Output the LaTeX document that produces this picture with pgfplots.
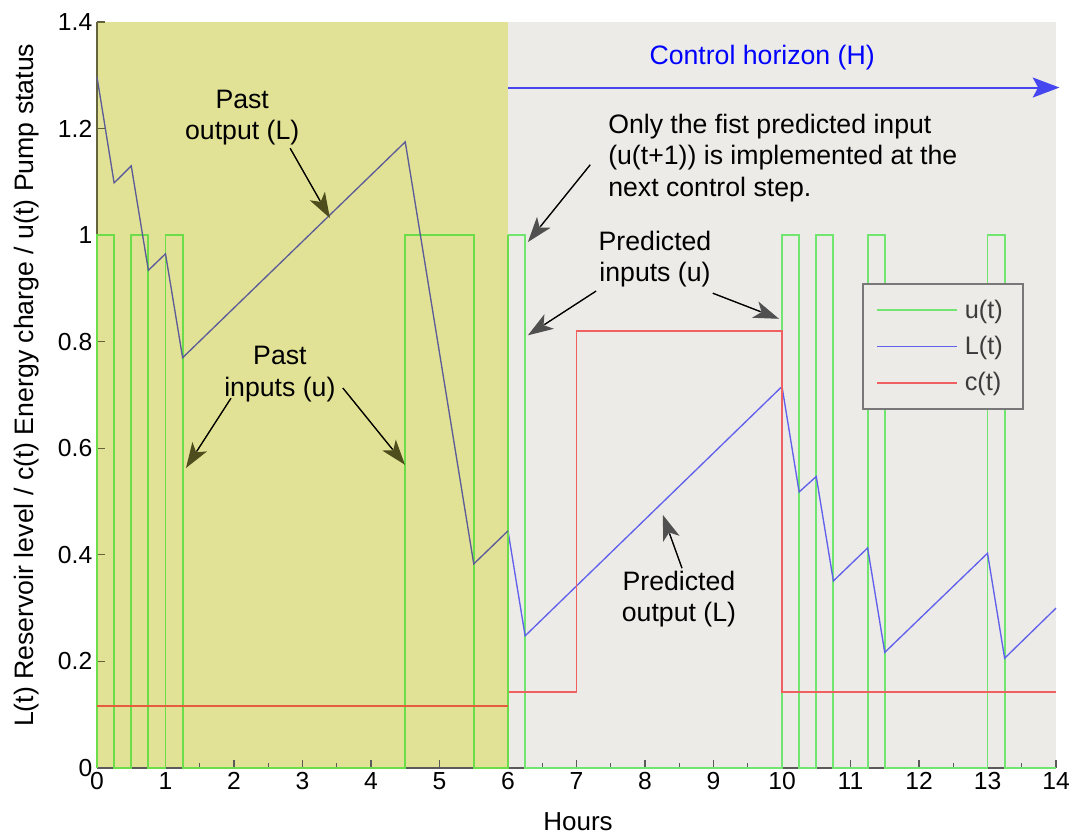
\documentclass[border=0pt]{standalone}
\usepackage{fontspec}
\setmainfont{Liberation Sans}
\usepackage{pgfplots}
\pgfplotsset{compat=1.18}
\usetikzlibrary{arrows.meta}

\definecolor{bggrey}{RGB}{236,235,231}
\definecolor{pastbg}{RGB}{226,226,150}
\definecolor{ucol}{RGB}{112,230,112}
\definecolor{Lcol}{RGB}{96,96,236}
\definecolor{ccol}{RGB}{240,96,96}
\definecolor{upast}{RGB}{107,221,72}
\definecolor{Lpast}{RGB}{92,92,153}
\definecolor{cpast}{RGB}{230,92,62}
\definecolor{axisgrey}{RGB}{90,90,90}
\definecolor{axisolive}{RGB}{100,100,60}
\definecolor{headgrey}{RGB}{80,80,80}
\definecolor{headolive}{RGB}{77,77,30}
\definecolor{legendgrey}{RGB}{120,120,120}
\definecolor{legendtext}{RGB}{60,60,60}
\definecolor{horizonblue}{RGB}{70,70,240}

\tikzset{
  note/.style={font=\fontsize{20}{23.5}\selectfont, inner sep=0pt, align=center}
}
% annotation arrow: black shaft, filled head in the given colour
\newcommand{\pointer}[3][headgrey]{%
  \draw[#1, line width=0.9pt, -{Stealth[length=19pt,width=13pt,inset=5pt]}] #2 -- #3;
  \draw[black, line width=0.9pt, shorten >=15pt] #2 -- #3;}

\begin{document}
\begin{tikzpicture}
\useasboundingbox (-72.75pt,-50.25pt) rectangle (735pt,576pt);
\begin{axis}[
  scale only axis, width=719.25pt, height=559.5pt,
  xmin=0, xmax=14, ymin=0, ymax=1.4,
  clip=false,
  axis x line*=bottom, axis y line*=left,
  axis line style={line width=1.6pt, color=axisgrey},
  y axis line style={color=axisolive},
  % grey plot area, first six hours (the past) tinted yellow
  axis background/.style={fill=bggrey, path picture={
      \fill[pastbg] (path picture bounding box.south west) rectangle ++(308.25pt,559.5pt);}},
  xtick={0,...,14}, minor x tick num=1,
  ytick={0,0.2,0.4,0.6,0.8,1,1.2,1.4},
  tick align=inside,
  major tick length=6pt, minor tick length=3.5pt,
  tick style={line width=0.9pt, color=axisgrey},
  ytick style={color=axisolive},
  ticklabel style={font=\fontsize{18.5}{20}\selectfont},
  /pgf/number format/assume math mode=true,
  xlabel={Hours},
  ylabel={L(t) Reservoir level / c(t) Energy charge / u(t) Pump status},
  xlabel style={font=\fontsize{19.5}{21}\selectfont, at={(axis description cs:0.5016,-0.0724)}, anchor=center},
  ylabel style={font=\fontsize{20}{22}\selectfont, at={(axis description cs:-0.0735,0.513)}, anchor=center},
  legend cell align=left,
  legend style={at={(axis cs:11.17,0.91)}, anchor=north west, fill=bggrey, draw=legendgrey,
    line width=1.2pt, font=\fontsize{19}{21}\selectfont, text=legendtext,
    row sep=0pt, inner xsep=10pt, inner ysep=6pt, nodes={inner ysep=6pt, inner xsep=5pt}},
  legend image code/.code={\draw[#1, line width=1.4pt] (0pt,0pt) -- (60pt,0pt);},
]
% ---- predicted part (t >= 6) ----
\addplot[const plot, ucol, line width=1.4pt] coordinates {
  (6,1) (6.25,0) (10,1) (10.25,0) (10.5,1) (10.75,0) (11.25,1) (11.5,0)
  (13,1) (13.25,0) (14,0)};
\addlegendentry{u(t)}
\addplot[Lcol, line width=1.0pt] coordinates {
  (6,0.445) (6.25,0.248) (10,0.716) (10.25,0.518)
  (10.5,0.547) (10.75,0.351) (11.25,0.413) (11.5,0.217) (13,0.403)
  (13.25,0.206) (14,0.3)};
\addlegendentry{L(t)}
\addplot[const plot, ccol, line width=1.4pt] coordinates {
  (6,0.117) (6,0.142) (7,0.82) (10,0.142) (14,0.142)};
\addlegendentry{c(t)}

% ---- past part (t <= 6) ----
\addplot[const plot, upast, line width=1.4pt, forget plot] coordinates {
  (0,0) (0,1) (0.25,0) (0.5,1) (0.75,0) (1,1) (1.25,0) (4.5,1) (5.5,0) (6,1)};
\addplot[Lpast, line width=1.0pt, forget plot] coordinates {
  (0,1.297) (0.25,1.098) (0.5,1.13) (0.75,0.934) (1,0.965) (1.25,0.77)
  (4.5,1.175) (5.5,0.383) (6,0.445)};
\addplot[cpast, line width=1.4pt, forget plot] coordinates {
  (0,0.117) (6,0.117)};

\node[note] at (axis cs:2.12,1.22) {Past\\output (L)};
\pointer[headolive]{(axis cs:2.82,1.163)}{(axis cs:3.40,1.032)}
\node[note] at (axis cs:2.67,0.739) {Past\\inputs (u)};
\pointer[headolive]{(axis cs:1.956,0.694)}{(axis cs:1.299,0.563)}
\pointer[headolive]{(axis cs:3.59,0.713)}{(axis cs:4.496,0.569)}
\node[note, align=left, anchor=west] at (axis cs:7.46,1.145)
  {Only the fist predicted input\\(u(t+1)) is implemented at the\\next control step.};
\pointer{(axis cs:7.2,1.132)}{(axis cs:6.29,0.987)}
\node[note] at (axis cs:8.146,0.955) {Predicted\\inputs (u)};
\pointer{(axis cs:7.285,0.895)}{(axis cs:6.29,0.812)}
\pointer{(axis cs:8.99,0.891)}{(axis cs:9.956,0.843)}
\node[note] at (axis cs:8.496,0.317) {Predicted\\output (L)};
\pointer{(axis cs:8.54,0.375)}{(axis cs:8.26,0.475)}

% control horizon
\draw[horizonblue, line width=1.5pt, -{Stealth[length=20pt,width=15pt,inset=4pt]}]
  (axis cs:6,1.277) -- (axis cs:14.05,1.277);
\node[note, text=blue] at (axis cs:9.71,1.334) {Control horizon (H)};
\end{axis}
\end{tikzpicture}
\end{document}
